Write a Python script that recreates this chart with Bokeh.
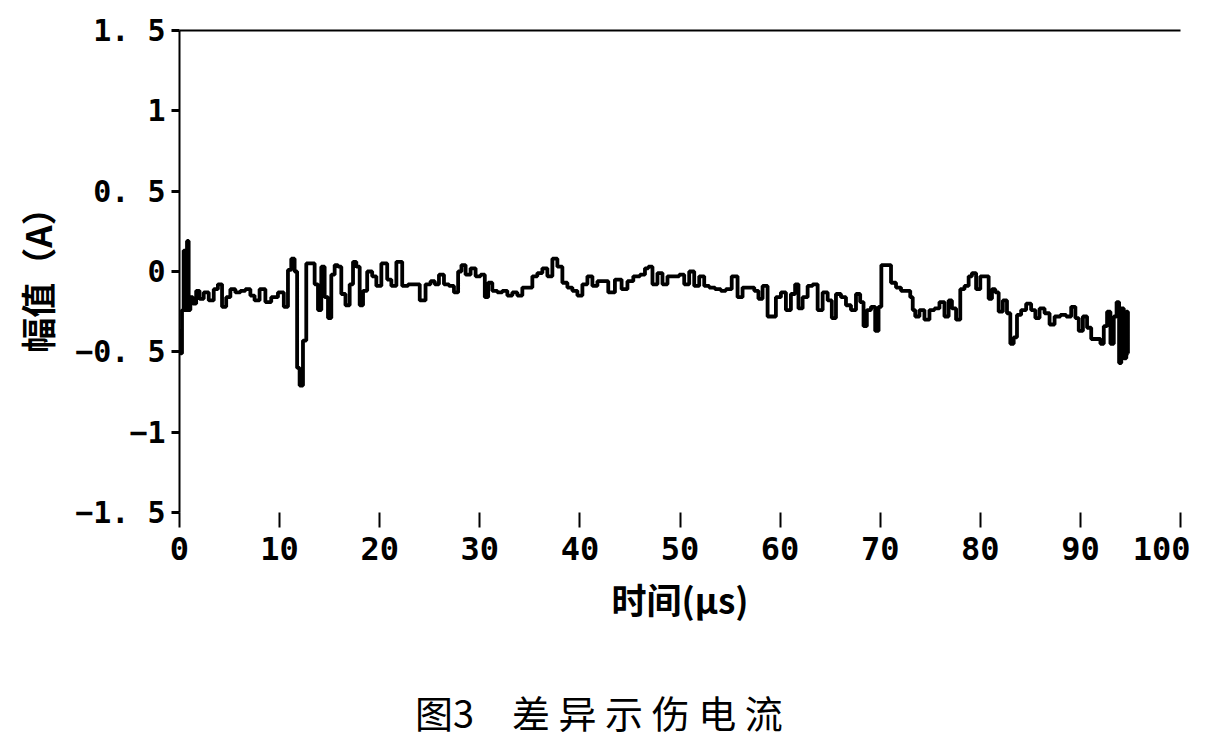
from bokeh.plotting import figure
from bokeh.models import FixedTicker, LinearAxis, Range1d, Div
from bokeh.layouts import column
from bokeh.embed import file_html
from bokeh.resources import INLINE

# ---- data ----
time_us = [
    0.0, 0.17, 0.33, 0.5, 0.67, 0.83, 1.0, 1.17, 1.5, 1.83, 2.17, 2.67, 3.17, 3.67, 4.0,
    4.5, 4.83, 5.33, 5.83, 6.33, 6.83, 7.33, 7.67, 8.33, 8.83, 9.5, 10.17, 10.67, 11.0, 11.33,
    11.67, 11.83, 12.17, 12.5, 12.83, 13.33, 13.67, 14.0, 14.33, 14.67, 15.0, 15.33, 15.67, 16.0, 16.33,
    16.83, 17.17, 17.5, 17.83, 18.17, 18.5, 19.0, 19.5, 19.83, 20.5, 21.0, 21.33, 22.0, 22.5, 23.17,
    23.67, 24.33, 24.83, 25.33, 25.67, 26.17, 26.67, 27.17, 27.67, 28.0, 28.33, 28.83, 29.33, 29.83, 30.33,
    30.67, 31.0, 31.5, 32.0, 32.5, 33.0, 33.5, 34.0, 34.5, 35.0, 35.5, 36.0, 36.5, 37.0, 37.5,
    38.0, 38.5, 39.0, 39.5, 40.0, 40.5, 41.0, 41.5, 42.0, 42.5, 43.17, 43.83, 44.5, 45.0, 45.67,
    46.33, 46.67, 47.0, 47.5, 48.0, 48.5, 49.0, 49.67, 50.17, 50.67, 51.17, 51.67, 52.17, 52.67, 53.17,
    53.83, 54.33, 54.83, 55.5, 56.0, 56.5, 57.17, 57.67, 58.0, 58.5, 59.0, 59.33, 59.83, 60.33, 60.83,
    61.33, 61.67, 62.0, 62.5, 63.0, 63.5, 64.0, 64.5, 65.0, 65.33, 65.83, 66.33, 66.83, 67.33, 67.83,
    68.17, 68.5, 68.83, 69.33, 69.67, 70.0, 70.23, 70.83, 71.33, 71.83, 72.33, 72.83, 73.17, 73.33, 73.67,
    74.17, 74.67, 75.17, 75.67, 76.17, 76.67, 77.0, 77.33, 77.83, 78.17, 78.67, 79.0, 79.33, 79.83, 80.17,
    80.67, 81.0, 81.33, 81.67, 82.0, 82.5, 82.83, 83.17, 83.5, 83.83, 84.33, 84.83, 85.33, 85.67, 86.17,
    86.67, 87.17, 87.67, 88.33, 88.83, 89.33, 89.67, 90.0, 90.5, 90.83, 91.33, 91.83, 92.17, 92.5, 92.83,
    93.17, 93.5, 93.73, 94.0, 94.17, 94.5, 94.67, 94.83,
]
amplitude_A = [
    -0.37, -0.51, -0.24, 0.13, -0.24, 0.19, -0.24, -0.16, -0.20, -0.12, -0.17, -0.13, -0.18, -0.11, -0.08,
    -0.22, -0.16, -0.11, -0.13, -0.12, -0.11, -0.15, -0.18, -0.11, -0.19, -0.16, -0.13, -0.22, 0.01, 0.08,
    0.00, -0.60, -0.71, -0.43, 0.05, 0.05, -0.08, -0.24, 0.03, -0.16, -0.29, -0.02, 0.04, 0.03, -0.14,
    -0.21, -0.08, 0.06, 0.03, -0.21, -0.12, 0.00, -0.03, -0.09, 0.05, -0.05, -0.09, 0.06, -0.09, -0.08,
    -0.08, -0.18, -0.08, -0.06, -0.08, -0.02, -0.08, -0.09, -0.13, 0.00, 0.04, -0.02, 0.02, -0.03, -0.02,
    -0.16, -0.07, -0.12, -0.13, -0.12, -0.15, -0.13, -0.15, -0.10, -0.10, -0.03, -0.01, 0.02, -0.03, 0.08,
    0.03, -0.07, -0.10, -0.12, -0.15, -0.08, -0.03, -0.09, -0.06, -0.06, -0.13, -0.05, -0.11, -0.06, -0.03,
    -0.02, 0.02, 0.03, -0.08, -0.01, -0.08, -0.03, -0.03, -0.02, -0.08, 0.00, -0.09, -0.03, -0.09, -0.10,
    -0.11, -0.12, -0.11, -0.03, -0.16, -0.10, -0.10, -0.12, -0.17, -0.09, -0.28, -0.28, -0.16, -0.13, -0.24,
    -0.14, -0.08, -0.23, -0.16, -0.09, -0.08, -0.24, -0.13, -0.18, -0.29, -0.14, -0.16, -0.21, -0.24, -0.14,
    -0.19, -0.34, -0.24, -0.22, -0.37, -0.22, 0.04, 0.04, -0.07, -0.10, -0.12, -0.12, -0.16, -0.24, -0.28,
    -0.24, -0.30, -0.24, -0.23, -0.19, -0.28, -0.18, -0.23, -0.30, -0.11, -0.09, -0.03, -0.01, -0.11, -0.03,
    -0.03, -0.17, -0.11, -0.13, -0.25, -0.18, -0.26, -0.45, -0.41, -0.27, -0.24, -0.20, -0.24, -0.29, -0.23,
    -0.26, -0.33, -0.28, -0.27, -0.28, -0.22, -0.29, -0.37, -0.28, -0.35, -0.42, -0.42, -0.45, -0.34, -0.25,
    -0.45, -0.28, -0.19, -0.57, -0.23, -0.54, -0.25, -0.51,
]
x_ticks = [0, 10, 20, 30, 40, 50, 60, 70, 80, 90, 100]
y_ticks = [-1.5, -1.0, -0.5, 0.0, 0.5, 1.0, 1.5]
y_tick_labels = ["\u22121. 5", "\u22121", "\u22120. 5", "0", "0. 5", "1", "1. 5"]
x_title = "时间(μs)"
y_title = "幅值（A）"
caption = "图3\u3000差 异 示 伤 电 流"

p = figure(width=1190, height=640, output_backend="svg", toolbar_location=None,
           x_range=Range1d(0, 100), y_range=Range1d(-1.5, 1.5),
           min_border_left=179, min_border_right=10, min_border_top=30, min_border_bottom=128)
p.outline_line_color = None
p.grid.grid_line_color = None

p.step(time_us, amplitude_A, mode="center", line_color="black", line_width=3.8)

tick_font = "DejaVu Sans Mono"
cjk = "Noto Sans CJK SC"

# x axis
xa = p.xaxis[0]
xa.ticker = FixedTicker(ticks=x_ticks)
xa.axis_line_color = None
xa.major_tick_in = 0
xa.major_tick_out = 15
xa.major_tick_line_width = 2
xa.major_tick_line_color = "black"
xa.minor_tick_line_color = None
xa.major_label_text_font = tick_font
xa.major_label_text_font_style = "bold"
xa.major_label_text_font_size = "32px"
xa.major_label_text_color = "black"
xa.major_label_standoff = 9
xa.axis_label = x_title
xa.axis_label_text_font = cjk
xa.axis_label_text_font_style = "bold"
xa.axis_label_text_font_size = "35px"
xa.axis_label_text_color = "black"
xa.axis_label_standoff = 10

# y axis
ya = p.yaxis[0]
ya.ticker = FixedTicker(ticks=y_ticks)
ya.major_label_overrides = {t: l for t, l in zip(y_ticks, y_tick_labels)}
ya.axis_line_width = 2
ya.axis_line_color = "black"
ya.major_tick_in = 0
ya.major_tick_out = 8
ya.major_tick_line_width = 3
ya.major_tick_line_color = "black"
ya.minor_tick_line_color = None
ya.major_label_text_font = tick_font
ya.major_label_text_font_style = "bold"
ya.major_label_text_font_size = "30px"
ya.major_label_text_color = "black"
ya.major_label_standoff = 6
ya.axis_label = y_title
ya.axis_label_text_font = cjk
ya.axis_label_text_font_style = "bold"
ya.axis_label_text_font_size = "35px"
ya.axis_label_text_color = "black"
ya.axis_label_standoff = 10

# top border line
top = LinearAxis(ticker=FixedTicker(ticks=[]), major_tick_in=0, major_tick_out=0,
                 minor_tick_line_color=None, major_label_text_font_size="0px",
                 axis_line_width=2, axis_line_color="black")
p.add_layout(top, "above")

# figure caption below the chart
cap = Div(text=caption, width=1190, height=100, margin=0,
          styles={"font-family": "'Noto Sans CJK SC'", "font-size": "38px", "color": "black",
                  "line-height": "1", "padding-top": "53px", "padding-left": "415px",
                  "white-space": "pre"})

layout = column(p, cap, spacing=0)
open("out.html", "w").write(file_html(layout, INLINE))
